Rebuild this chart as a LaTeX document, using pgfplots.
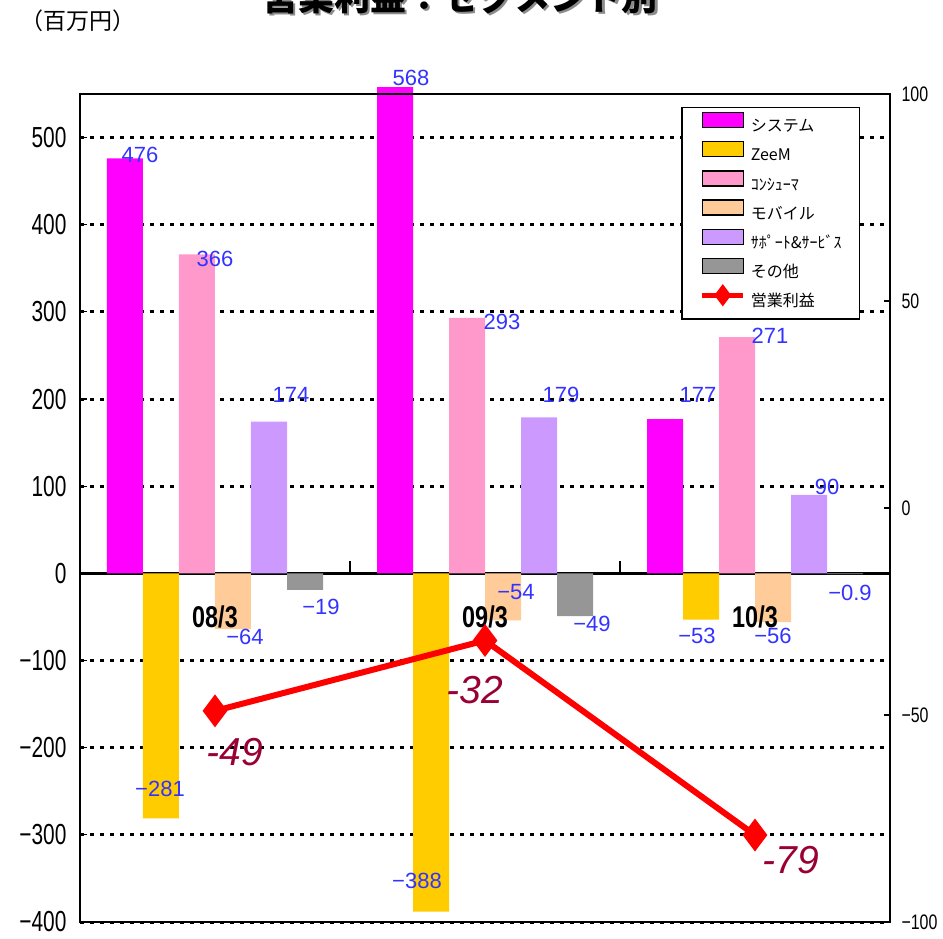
\documentclass[border=0pt]{standalone}
\usepackage{fontspec}
\usepackage{pgfplots}
\usepackage{pgfplotstable}
\pgfplotsset{compat=1.18}
\setmainfont{Liberation Sans}
\newfontfamily\jpfont{Noto Sans CJK JP}
\newfontfamily\tickfont[FakeStretch=0.72]{Liberation Sans}
\newfontfamily\rtickfont[FakeStretch=0.76]{Liberation Sans}
\newfontfamily\catfont[FakeStretch=0.78]{Liberation Sans}
\newfontfamily\valfont{Liberation Sans}

\definecolor{cSys}{HTML}{FF00FF}
\definecolor{cZeem}{HTML}{FFCC00}
\definecolor{cCons}{HTML}{FF99CC}
\definecolor{cMob}{HTML}{FFCC99}
\definecolor{cSup}{HTML}{CC99FF}
\definecolor{cOth}{HTML}{969696}
\definecolor{cLbl}{HTML}{3333FF}
\definecolor{cOp}{HTML}{990033}

% segment operating income (million yen), one row per fiscal year
\pgfplotstableread{
g sys zeem cons mob sup oth
0 476 -281 366 -64 174 -19
1 568 -388 293 -54 179 -49
2 177 -53 271 -56 90 -0.9
}\segdata
% total operating income (right axis)
\pgfplotstableread{
g op
0 -49
1 -32
2 -79
}\opdata

\pgfplotsset{
  barleg/.style={legend image code/.code={\fill[##1] (0pt,-1.7pt) rectangle (41pt,13.3pt);}},
  lineleg/.style={legend image code/.code={\draw[##1,line width=5pt,mark size=7pt,mark repeat=2,mark phase=2] plot coordinates {(0pt,5.8pt) (20.5pt,5.8pt) (41pt,5.8pt)};}},
}

% value label: group, bar index, value, x shift, y shift, text
\newcommand\vlab[6]{\node[font=\valfont\fontsize{22}{22}\selectfont, text=cLbl, inner sep=0pt, xshift=#4pt, yshift=#5pt] at (axis cs:{#1-0.333333+#2*0.133333},#3) {#6};}
% value label of the total line
\newcommand\olab[4]{\node[font=\valfont\itshape\fontsize{39}{39}\selectfont, text=cOp, inner sep=0pt, xshift=#3pt, yshift=#4pt] at (axis cs:#1,#2) {#2};}

\begin{document}
\begin{tikzpicture}
\path[use as bounding box] (-80pt,-16pt) rectangle (863pt,922pt);

% title and unit
\node[font=\jpfont\bfseries\fontsize{36}{36}\selectfont, text=black!45, anchor=base] at (382pt,909.5pt) {営業利益：セグメント別};
\node[font=\jpfont\bfseries\fontsize{36}{36}\selectfont, anchor=base] at (380pt,911.5pt) {営業利益：セグメント別};
\node[font=\jpfont\fontsize{23}{23}\selectfont] at (-2pt,901pt) {（百万円）};

% segment bars, left axis
\begin{axis}[
  scale only axis, width=810pt, height=834.1pt,
  xmin=-0.5, xmax=2.5, ymin=-400, ymax=557,
  axis x line=middle, axis y line=left,
  x axis line style={-, line width=2.5pt},
  y axis line style={draw=none},
  hide obscured x ticks=false, hide obscured y ticks=false,
  ybar=0pt, bar width=0.133333,
  xtick=\empty,
  extra x ticks={0.5,1.5}, extra x tick labels={},
  extra x tick style={major tick length=12pt, tick align=inside,
    major x tick style={black, line width=1.2pt}},
  tick align=inside,
  ytick={-400,-300,...,500},
  yticklabels={−400,−300,−200,−100,0,100,200,300,400,500},
  yticklabel style={font=\tickfont\fontsize{29}{29}\selectfont, anchor=east, xshift=-10pt},
  major y tick style={black, line width=1.2pt}, major tick length=7pt,
  ymajorgrids, y grid style={black, line width=3pt, dash pattern=on 4pt off 6pt},
  clip mode=individual,
]
\addplot[fill=cSys, draw=none] table[x=g,y=sys]{\segdata};
\addplot[fill=cZeem, draw=none] table[x=g,y=zeem]{\segdata};
\addplot[fill=cCons, draw=none] table[x=g,y=cons]{\segdata};
\addplot[fill=cMob, draw=none] table[x=g,y=mob]{\segdata};
\addplot[fill=cSup, draw=none] table[x=g,y=sup]{\segdata};
\addplot[fill=cOth, draw=none] table[x=g,y=oth]{\segdata};

\vlab{0}{0}{476}{15}{3.6}{476}
\vlab{0}{1}{-281}{-1}{29}{−281}
\vlab{0}{2}{366}{18}{-4.5}{366}
\vlab{0}{3}{-64}{12}{-8}{−64}
\vlab{0}{4}{174}{22}{27}{174}
\vlab{0}{5}{-19}{16}{-17}{−19}
\vlab{1}{0}{568}{16}{0.4}{568}
\vlab{1}{1}{-388}{-14}{31}{−388}
\vlab{1}{2}{293}{35}{-4}{293}
\vlab{1}{3}{-54}{13}{28.6}{−54}
\vlab{1}{4}{179}{22}{22.5}{179}
\vlab{1}{5}{-49}{17}{-8}{−49}
\vlab{2}{0}{177}{33}{24}{177}
\vlab{2}{1}{-53}{-4}{-16}{−53}
\vlab{2}{2}{271}{33}{1}{271}
\vlab{2}{3}{-56}{0}{-14}{−56}
\vlab{2}{4}{90}{18}{8}{90}
\vlab{2}{5}{-0.9}{5}{-19}{−0.9}
\end{axis}

% total operating income, right axis, with frame, category labels and legend
\begin{axis}[
  scale only axis, width=810pt, height=828pt,
  xmin=-0.5, xmax=2.5, ymin=-100, ymax=100,
  axis line style={line width=2pt},
  xtick={0,1,2}, xticklabels={08/3,09/3,10/3},
  xticklabel pos=bottom,
  major x tick style={draw=none},
  xticklabel style={font=\catfont\bfseries\fontsize{30}{30}\selectfont, anchor=center, yshift=305pt},
  ytick={-100,-50,0,50,100},
  yticklabels={−100,−50,0,50,100},
  ytick pos=right, yticklabel pos=right,
  tick align=inside, major tick length=6pt,
  major y tick style={black, line width=1.2pt},
  yticklabel style={font=\rtickfont\fontsize{21}{21}\selectfont, anchor=west, xshift=8pt},
  legend cell align=left,
  legend style={at={(0.742,0.9843)}, anchor=north west, draw=black, line width=1.5pt,
    fill=white, inner xsep=18pt, inner ysep=3.5pt, row sep=0pt, column sep=5pt,
    font=\jpfont\fontsize{16}{16}\selectfont,
    nodes={inner sep=0pt, text height=20.4pt, text depth=8.8pt}},
]
\addlegendimage{barleg, fill=cSys}\addlegendentry{システム}
\addlegendimage{barleg, fill=cZeem}\addlegendentry{ZeeM}
\addlegendimage{barleg, fill=cCons}\addlegendentry{ｺﾝｼｭｰﾏ}
\addlegendimage{barleg, fill=cMob}\addlegendentry{モバイル}
\addlegendimage{barleg, fill=cSup}\addlegendentry{ｻﾎﾟｰﾄ\&ｻｰﾋﾞｽ}
\addlegendimage{barleg, fill=cOth}\addlegendentry{その他}
\addplot[red, line width=6pt, mark=diamond*, mark size=11.5pt, mark options={solid}, lineleg]
  table[x=g,y=op]{\opdata};
\addlegendentry{営業利益}

\olab{0}{-49}{20}{-41}
\olab{1}{-32}{-10}{-50}
\olab{2}{-79}{36}{-25}
\end{axis}
\end{tikzpicture}
\end{document}
